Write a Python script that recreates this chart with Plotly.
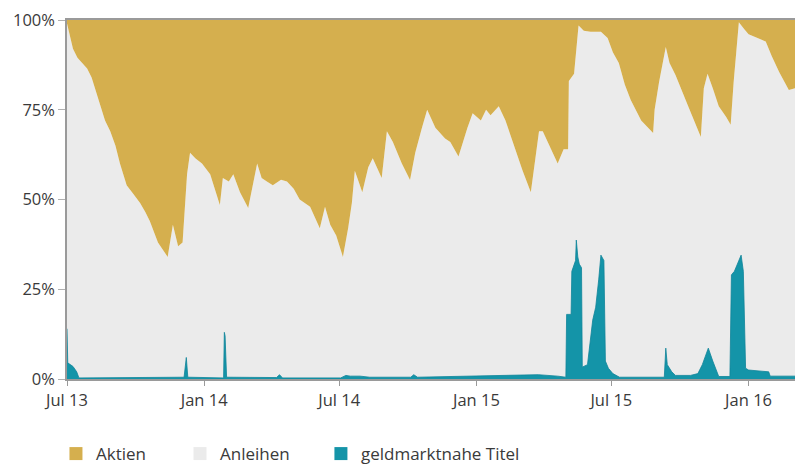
import plotly.graph_objects as go

# ---- Data ----
aktien_dates = [
    "2013-07-01", "2013-07-05", "2013-07-09", "2013-07-15", "2013-07-22", "2013-07-28",
    "2013-08-03", "2013-08-09", "2013-08-14", "2013-08-21", "2013-08-28", "2013-09-04",
    "2013-09-10", "2013-09-19", "2013-09-28", "2013-10-07", "2013-10-14", "2013-10-20",
    "2013-10-31", "2013-11-06", "2013-11-13", "2013-11-20", "2013-11-27", "2013-12-03",
    "2013-12-09", "2013-12-13", "2013-12-20", "2013-12-29", "2014-01-09", "2014-01-22",
    "2014-01-26", "2014-02-03", "2014-02-09", "2014-02-18", "2014-03-01", "2014-03-13",
    "2014-03-19", "2014-03-26", "2014-04-03", "2014-04-14", "2014-04-22", "2014-05-01",
    "2014-05-09", "2014-05-23", "2014-06-05", "2014-06-12", "2014-06-19", "2014-06-27",
    "2014-07-06", "2014-07-13", "2014-07-18", "2014-07-22", "2014-08-01", "2014-08-09",
    "2014-08-15", "2014-08-27", "2014-09-03", "2014-09-11", "2014-09-23", "2014-10-04",
    "2014-10-11", "2014-10-20", "2014-10-27", "2014-11-07", "2014-11-20", "2014-11-27",
    "2014-12-08", "2014-12-20", "2014-12-27", "2015-01-07", "2015-01-14", "2015-01-20",
    "2015-01-31", "2015-02-09", "2015-02-20", "2015-03-04", "2015-03-15", "2015-03-20",
    "2015-03-26", "2015-03-31", "2015-04-11", "2015-04-20", "2015-04-28", "2015-05-04",
    "2015-05-05", "2015-05-12", "2015-05-18", "2015-05-25", "2015-06-03", "2015-06-17",
    "2015-06-26", "2015-07-03", "2015-07-11", "2015-07-19", "2015-07-27", "2015-08-10",
    "2015-08-26", "2015-08-28", "2015-09-03", "2015-09-12", "2015-09-17", "2015-09-25",
    "2015-10-13", "2015-10-29", "2015-11-02", "2015-11-07", "2015-11-14", "2015-11-22",
    "2015-12-02", "2015-12-08", "2015-12-12", "2015-12-19", "2015-12-26", "2016-01-01",
    "2016-01-13", "2016-01-24", "2016-02-01", "2016-02-11", "2016-02-24", "2016-03-04",
    "2016-03-15",
]
# level of the Aktien/Anleihen boundary (Anleihen + geldmarktnahe Titel), percent
boundary_pct = [
    99, 95, 92, 89.5, 88, 86.5,
    84, 80, 76, 72, 69, 65,
    60, 54, 51.5, 49, 46.5, 44,
    38, 36, 34, 43, 37, 38,
    57, 63, 61.5, 60, 57, 48.5,
    56, 55, 57, 52, 47.6, 60,
    56, 55, 54, 55.5, 55, 53,
    50, 48, 42, 48, 43, 40,
    34, 42, 49, 58, 52, 59,
    61.5, 56, 69, 66, 60, 55.4,
    63, 70, 75, 70, 67, 66,
    62, 70, 74, 72, 75, 73.5,
    76, 72, 65, 58, 52, 60,
    69, 69, 64, 60, 64, 64,
    83, 85, 98.5, 97, 96.7, 96.7,
    95, 91, 88, 82, 77.7, 72,
    68.5, 75, 82.7, 92.5, 88, 84.7,
    75.5, 67.4, 81, 85, 81, 76,
    73, 70.8, 82.7, 99.4, 97.5, 96,
    95, 94, 90, 85.5, 80.5, 81,
    79,
]
aktien_pct = [round(100 - b, 1) for b in boundary_pct]

# Share of geldmarktnahe Titel (money-market), percent
geld_dates = [
    "2013-07-01", "2013-07-02", "2013-07-09", "2013-07-14", "2013-07-17", "2013-10-20",
    "2013-11-02", "2013-12-05", "2013-12-08", "2013-12-10", "2014-01-27", "2014-01-28",
    "2014-01-29", "2014-01-31", "2014-04-08", "2014-04-12", "2014-04-16", "2014-07-03",
    "2014-07-10", "2014-07-16", "2014-07-29", "2014-08-11", "2014-10-05", "2014-10-09",
    "2014-10-14", "2014-12-25", "2015-01-15", "2015-03-25", "2015-04-20", "2015-05-01",
    "2015-05-02", "2015-05-08", "2015-05-09", "2015-05-14", "2015-05-15", "2015-05-17",
    "2015-05-19", "2015-05-22", "2015-05-23", "2015-05-30", "2015-06-06", "2015-06-10",
    "2015-06-14", "2015-06-17", "2015-06-21", "2015-06-23", "2015-06-27", "2015-07-03",
    "2015-07-12", "2015-09-10", "2015-09-12", "2015-09-14", "2015-09-20", "2015-09-25",
    "2015-10-15", "2015-10-25", "2015-10-31", "2015-11-08", "2015-11-14", "2015-11-19",
    "2015-11-22", "2015-12-07", "2015-12-09", "2015-12-13", "2015-12-17", "2015-12-22",
    "2015-12-25", "2015-12-28", "2016-01-01", "2016-01-28", "2016-01-30", "2016-03-15",
]
geld_pct = [
    14, 4.5, 3.5, 2, 0.3, 0.3,
    0.5, 0.5, 6, 0.5, 0.3, 13,
    12, 0.5, 0.4, 1.2, 0.3, 0.3,
    1.0, 0.8, 0.8, 0.5, 0.5, 1.2,
    0.5, 0.8, 0.8, 1.2, 0.8, 0.5,
    18, 18, 30, 33, 38.7, 34,
    32, 31, 3.3, 4, 16.4, 20,
    27.6, 34.5, 33, 5, 3, 1.5,
    0.5, 0.5, 8.6, 4, 2, 1,
    1, 1.5, 4, 8.6, 5, 2,
    0.7, 0.7, 29, 30, 32, 34.5,
    30, 3, 2.5, 2, 0.8, 0.8,
]

series_names = ["Aktien", "Anleihen", "geldmarktnahe Titel"]
series_colors = ["#D5AF4E", "#EBEBEB", "#1494A8"]

tick_dates = ["2013-07-01", "2014-01-01", "2014-07-01", "2015-01-01", "2015-07-01", "2016-01-01"]
tick_labels = ["Jul 13", "Jan 14", "Jul 14", "Jan 15", "Jul 15", "Jan 16"]
y_ticks = [0, 25, 50, 75, 100]
y_labels = ["0%", "25%", "50%", "75%", "100%"]

# ---- Figure ----
fig = go.Figure()

boundary = [100 - a for a in aktien_pct]

fig.add_trace(go.Scatter(
    x=aktien_dates, y=boundary, mode="lines", fill="tozeroy",
    fillcolor=series_colors[1], line=dict(width=0, color=series_colors[1]),
    showlegend=False, hoverinfo="skip",
))
fig.add_trace(go.Scatter(
    x=aktien_dates + aktien_dates[::-1],
    y=boundary + [100] * len(aktien_dates),
    mode="lines", fill="toself", fillcolor=series_colors[0],
    line=dict(width=0, color=series_colors[0]),
    showlegend=False, hoverinfo="skip",
))
fig.add_trace(go.Scatter(
    x=geld_dates, y=geld_pct, mode="lines", fill="tozeroy",
    fillcolor=series_colors[2], line=dict(width=0.8, color="#0F8499"),
    showlegend=False, hoverinfo="skip",
))

legend_ids = ["legend", "legend2", "legend3"]
legend_x = [-0.015, 0.1535, 0.345]
for name, col, lid in zip(series_names, series_colors, legend_ids):
    fig.add_trace(go.Scatter(
        x=[None], y=[None], mode="markers", name=name,
        marker=dict(symbol="square", size=13, color=col),
        legend=lid,
    ))

legend_common = dict(
    orientation="h", y=-0.209, yanchor="middle", xanchor="left",
    font=dict(family="Open Sans", size=17, color="#3a3a3a"),
    bgcolor="rgba(0,0,0,0)", borderwidth=0,
)

# the page places the figure 8px from the top-left corner
fig.update_layout(
    width=795, height=456,
    margin=dict(l=59, r=0, t=12, b=85, autoexpand=False),
    paper_bgcolor="white", plot_bgcolor="white",
    font=dict(family="Open Sans", size=17, color="#3a3a3a"),
    xaxis=dict(
        type="date", range=["2013-07-01", "2016-03-14"],
        tickvals=tick_dates, ticktext=tick_labels, automargin=False,
        ticklabeloverflow="allow",
        showgrid=False, zeroline=False,
        showline=True, linecolor="#9a9a9a", linewidth=1.5, mirror=True,
        ticks="outside", ticklen=5, tickcolor="#9a9a9a", tickwidth=1,
        tickfont=dict(family="Open Sans", size=16.5, color="#3a3a3a"),
    ),
    yaxis=dict(
        range=[0, 100], tickvals=y_ticks, ticktext=y_labels, automargin=False,
        ticklabeloverflow="allow",
        showgrid=False, zeroline=False,
        showline=True, linecolor="#9a9a9a", linewidth=1.5,
        ticks="outside", ticklen=7, tickcolor="#b0b0b0", tickwidth=1,
        tickfont=dict(family="Open Sans", size=16.5, color="#3a3a3a"),
    ),
    legend=dict(x=legend_x[0], **legend_common),
    legend2=dict(x=legend_x[1], **legend_common),
    legend3=dict(x=legend_x[2], **legend_common),
)

fig.write_html("out.html")
